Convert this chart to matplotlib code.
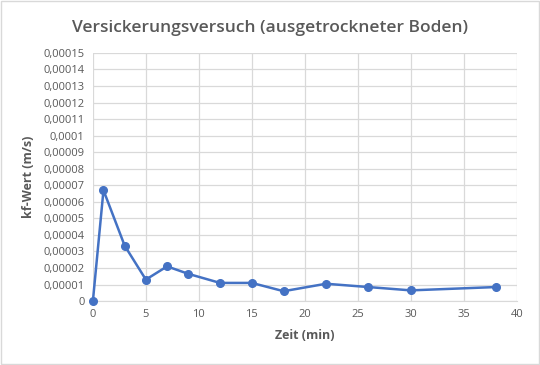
import matplotlib
matplotlib.use("Agg")
import matplotlib.pyplot as plt
from matplotlib.ticker import FuncFormatter, MultipleLocator
from matplotlib.patches import Rectangle

zeit = [0, 1, 3, 5, 7, 9, 12, 15, 18, 22, 26, 30, 38]
kf = [0, 6.7e-5, 3.35e-5, 1.3e-5, 2.1e-5, 1.65e-5, 1.1e-5, 1.1e-5, 0.6e-5,
      1.05e-5, 0.85e-5, 0.65e-5, 0.85e-5]

plt.rcParams['font.family'] = ['Open Sans', 'DejaVu Sans']
txt = '#595959'

fig = plt.figure(figsize=(5.4, 3.65), dpi=100)
ax = fig.add_axes([0.172, 0.175, 0.785, 0.68])
fig.patches.append(Rectangle((0.002, 0.003), 0.996, 0.994, transform=fig.transFigure,
                             fill=False, edgecolor='#d9d9d9', linewidth=1))

ax.plot(zeit, kf, color='#4472c4', linewidth=1.8, marker='o', markersize=5.5,
        markerfacecolor='#4472c4', markeredgecolor='#4472c4', zorder=3, clip_on=False)

ax.set_xlim(0, 40)
ax.set_ylim(0, 0.00015)
ax.xaxis.set_major_locator(MultipleLocator(5))
ax.yaxis.set_major_locator(MultipleLocator(0.00001))

def yfmt(v, p):
    if abs(v) < 1e-12:
        return '0'
    s = ('%.5f' % v).rstrip('0')
    return s.replace('.', ',')
ax.yaxis.set_major_formatter(FuncFormatter(yfmt))
ax.xaxis.set_major_formatter(FuncFormatter(lambda v, p: '%d' % v))

ax.grid(True, color='#d9d9d9', linewidth=0.9)
ax.set_axisbelow(True)
for s in ['top', 'right', 'left']:
    ax.spines[s].set_visible(False)
ax.spines['bottom'].set_color('#d9d9d9')
ax.tick_params(length=0, colors=txt, labelsize=8, pad=6)

ax.set_xlabel('Zeit (min)', fontsize=9, fontweight='bold', color=txt, labelpad=6)
ax.set_ylabel('kf-Wert (m/s)', fontsize=9, fontweight='bold', color=txt, labelpad=6)
fig.suptitle('Versickerungsversuch (ausgetrockneter Boden)', fontsize=12.5,
             fontweight='semibold', color=txt, y=0.945)

fig.savefig('out.png', dpi=100)
